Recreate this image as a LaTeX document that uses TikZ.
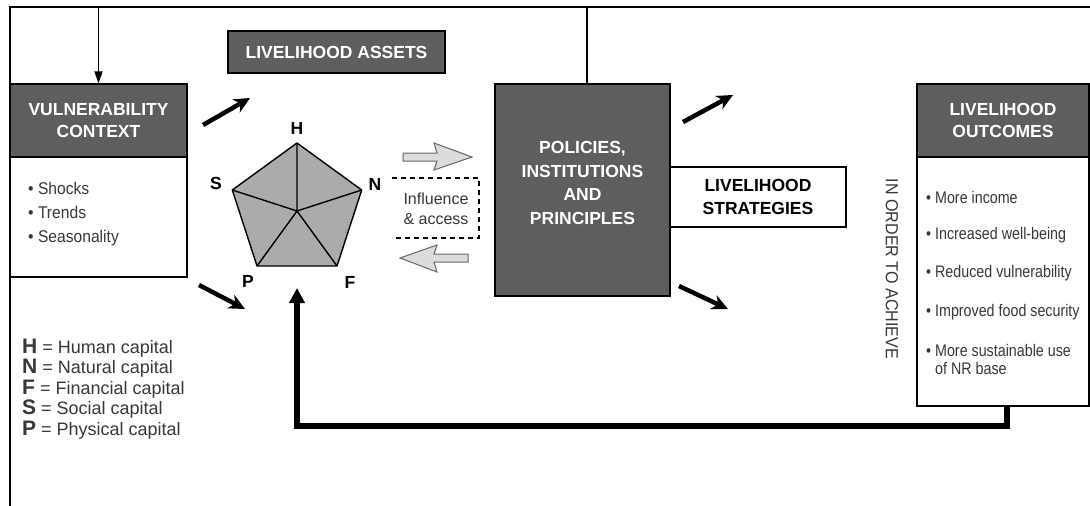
\documentclass[tikz,border=0pt]{standalone}
\usepackage{fontspec}
\setmainfont{Liberation Sans}
\newfontfamily\condfont[FakeStretch=0.85]{Liberation Sans}
\newfontfamily\semicond[FakeStretch=0.92]{Liberation Sans}
\usetikzlibrary{arrows.meta}
\definecolor{boxgray}{HTML}{5E5E5E}
\definecolor{pentgray}{HTML}{ABABAB}
\definecolor{arrgray}{HTML}{DCDCDC}
\definecolor{txtgray}{HTML}{383838}
\newcommand\legline[2]{{\fontsize{21}{20.5}\selectfont\bfseries #1} = #2}
\begin{document}
\begin{tikzpicture}[x=1pt,y=-1pt,
  hdfont/.style={font=\fontsize{17.5}{22.5}\selectfont\bfseries},
  darkbox/.style={draw=black, line width=1.2pt, fill=boxgray, text=white, hdfont, align=center, inner sep=0pt},
  whitebox/.style={draw=black, line width=1.2pt, fill=white, inner sep=0pt, align=center},
  blkarrow/.style={line width=4.5pt, -{Stealth[length=16pt,width=15pt,inset=5pt]}},
  hollow/.style={draw=black!60, line width=1pt, fill=arrgray, line join=miter},
  bodytext/.style={text=txtgray, font=\semicond\fontsize{17}{24}\selectfont, align=left, inner sep=0pt},
  outtext/.style={text=txtgray, font=\condfont\fontsize{16.8}{18}\selectfont, align=left, inner sep=0pt, anchor=west},
  plabel/.style={font=\fontsize{17.5}{20}\selectfont\bfseries, inner sep=0pt}
]
\useasboundingbox (0,0) rectangle (1090,506);
\fill[white] (0,0) rectangle (1090,506);

% frame
\draw[line width=2pt] (10,506) -- (10,7) -- (1090,7);
\coordinate (ftop) at (0,7);

% boxes
\node[darkbox, minimum width=217pt, minimum height=42pt] (assets) at (336.5,52) {LIVELIHOOD ASSETS};
\node[darkbox, minimum width=177pt, minimum height=73pt] (vh) at (98.5,120.5) {VULNERABILITY\\CONTEXT};
\node[whitebox, minimum width=177pt, minimum height=120pt] (vb) at (98.5,217) {};
\node[whitebox, hdfont, minimum width=176pt, minimum height=60pt] (strat) at (758,197) {LIVELIHOOD\\STRATEGIES};
\node[darkbox, minimum width=175pt, minimum height=212pt] (pol) at (582.5,190) {};
\node[text=white, font=\fontsize{17.5}{23.5}\selectfont\bfseries, align=center, inner sep=0pt] (poltxt) at (582.5,183) {POLICIES,\\INSTITUTIONS\\AND\\PRINCIPLES};
\node[darkbox, minimum width=172pt, minimum height=73pt] (oh) at (1003,120.5) {LIVELIHOOD\\OUTCOMES};
\node[whitebox, minimum width=172pt, minimum height=249pt] (ob) at (1003,281.5) {};

% vulnerability list
\node[bodytext, anchor=west] (vlist) at (28,214) {\textbullet\ Shocks\\\textbullet\ Trends\\\textbullet\ Seasonality};

% outcomes list
\node[outtext] (o1) at (926,197) {\textbullet\ More income};
\node[outtext] (o2) at (926,235) {\textbullet\ Increased well-being};
\node[outtext] (o3) at (926,273) {\textbullet\ Reduced vulnerability};
\node[outtext] (o4) at (926,312) {\textbullet\ Improved food security};
\node[outtext] (o5) at (926,359) {\textbullet\ More sustainable use\\\phantom{\textbullet\ }of NR base};

% in order to achieve
\node[rotate=-90, text=txtgray, font=\semicond\fontsize{17.5}{20}\selectfont, inner sep=0pt] (ioa) at (892,269) {IN ORDER TO ACHIEVE};

% legend
\node[text=txtgray, font=\fontsize{18}{20.5}\selectfont, align=left, inner sep=0pt, anchor=west] (legend) at (22,389)
  {\legline{H}{Human capital}\\\legline{N}{Natural capital}\\\legline{F}{Financial capital}\\\legline{S}{Social capital}\\\legline{P}{Physical capital}};

% pentagon
\coordinate (pc) at (297,211);
\coordinate (pH) at (297,143);
\coordinate (pN) at (361.7,190);
\coordinate (pF) at (337,266);
\coordinate (pP) at (257,266);
\coordinate (pS) at (232.3,190);
\draw[line width=1.4pt, fill=pentgray, line join=round] (pH) -- (pN) -- (pF) -- (pP) -- (pS) -- cycle;
\draw[line width=1.4pt] (pc) -- (pH) (pc) -- (pN) (pc) -- (pF) (pc) -- (pP) (pc) -- (pS);
\node[plabel] (lH) at (297,128) {H};
\node[plabel] (lS) at (216,183) {S};
\node[plabel] (lN) at (375,184) {N};
\node[plabel] (lP) at (248,281) {P};
\node[plabel] (lF) at (350,282) {F};

% hollow arrows
\draw[hollow] (403,153) -- (437,153) -- (434,143) -- (472,157) -- (434,170) -- (437,161) -- (403,161) -- cycle;
\draw[hollow] (468,254) -- (434,254) -- (437,245) -- (400,258) -- (437,272) -- (434,262) -- (468,262) -- cycle;

% influence & access
\draw[line width=1.3pt, dash pattern=on 5pt off 4pt] (392,178) -- (479,178) -- (479,238) -- (392,238);
\node[text=txtgray, font=\fontsize{16}{20}\selectfont, align=center, inner sep=0pt] (infl) at (436,209) {Influence\\\& access};

% black arrows
\coordinate (a1s) at (203,125); \coordinate (a1e) at (250,98);
\coordinate (a2s) at (199,285); \coordinate (a2e) at (245,309);
\coordinate (a3s) at (683,122); \coordinate (a3e) at (733,95);
\coordinate (a4s) at (679,286); \coordinate (a4e) at (728,309);
\draw[blkarrow] (a1s) -- (a1e);
\draw[blkarrow] (a2s) -- (a2e);
\draw[blkarrow] (a3s) -- (a3e);
\draw[blkarrow] (a4s) -- (a4e);

% top feedback
\draw[line width=1.5pt, -{Triangle[length=12pt,width=8pt]}] ([xshift=4.5pt]pol.north) |- (vh.north |- ftop) -- (vh.north);

% bottom feedback
\coordinate (fbend) at (297,288);
\coordinate (fbcorner) at (1007,426);
\draw[line width=5.5pt, line join=miter, -{Triangle[length=15pt,width=15pt]}] ([xshift=4pt]ob.south) -- (fbcorner) -| (fbend);
\end{tikzpicture}
\end{document}
